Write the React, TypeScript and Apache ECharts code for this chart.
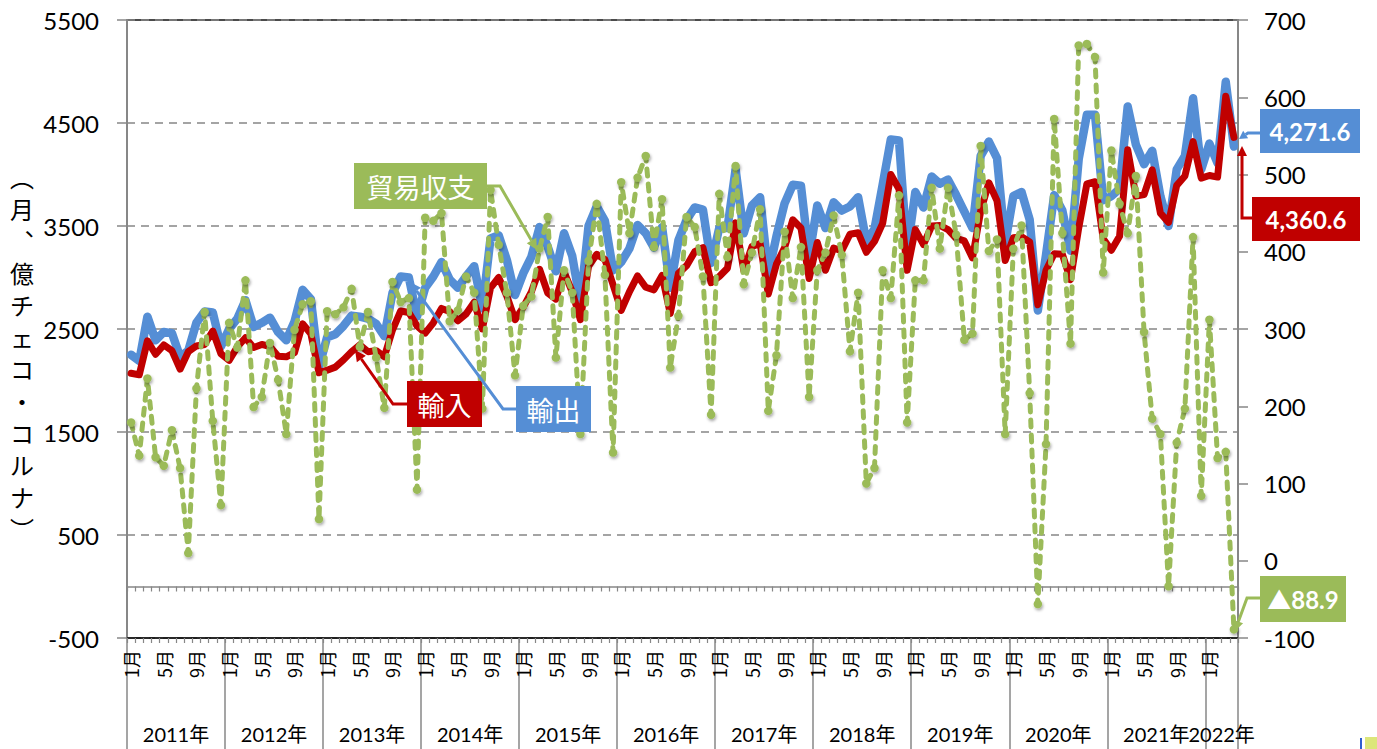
import React, { useEffect, useRef } from "react";
import * as echarts from "echarts";

// ---- data ----
const years = [2011, 2012, 2013, 2014, 2015, 2016, 2017, 2018, 2019, 2020, 2021, 2022];
const monthsInYear = [12, 12, 12, 12, 12, 12, 12, 12, 12, 12, 12, 4];

// 輸出 (億チェコ・コルナ, left axis)
const exportValues = [
  2250, 2190, 2620, 2390, 2470, 2460, 2230, 2290, 2560, 2670, 2660, 2330,
  2500, 2600, 2780, 2520, 2560, 2610, 2470, 2390, 2570, 2880, 2790, 2130,
  2420, 2450, 2530, 2630, 2620, 2600, 2550, 2430, 2850, 3010, 3000, 2620,
  2900, 3010, 3150, 2980, 2900, 3010, 3110, 2700, 3380, 3410, 3170, 2830,
  3040, 3200, 3490, 3300, 3060, 3430, 3210, 2750, 3500, 3690, 3550, 3070,
  3150, 3280, 3510, 3430, 3290, 3490, 2900, 3360, 3560, 3680, 3660, 3140,
  3480, 3480, 4050, 3430, 3700, 3780, 3030, 3400, 3720, 3900, 3890, 3200,
  3700, 3480, 3730, 3650, 3690, 3780, 3350, 3470, 3900, 4340, 4330, 3250,
  3830, 3680, 3980, 3910, 3950, 3800, 3640, 3480, 4180, 4320, 4160, 3330,
  3790, 3830, 3560, 2680, 3220, 3800, 3650, 3260, 4150, 4580, 4580, 3750,
  3790, 3860, 4660, 4290, 4100, 4230, 3790, 3500, 4050, 4180, 4740, 4050,
  4300, 4110, 4900, 4271.6,
];

// 輸入 (left axis)
const importValues = [
  2070, 2055, 2385, 2255, 2345, 2290, 2110, 2280, 2335, 2350, 2480, 2260,
  2195, 2325, 2415, 2320, 2350, 2330, 2235, 2230, 2270, 2550, 2455, 2075,
  2100, 2130, 2200, 2280, 2345, 2280, 2290, 2230, 2490, 2675, 2660, 2530,
  2460, 2560, 2700, 2670, 2580, 2645, 2760, 2500, 2900, 3000, 2820, 2590,
  2710, 2860, 3080, 2850, 2790, 3055, 2860, 2590, 3110, 3225, 3175, 2930,
  2680, 2860, 3015, 2905, 2880, 3020, 2650, 3040, 3115, 3250, 3290, 2950,
  3010, 3090, 3530, 3070, 3300, 3330, 2840, 3130, 3290, 3560, 3480, 2990,
  3340, 3070, 3285, 3260, 3420, 3435, 3245, 3350, 3525, 4000, 3860, 3070,
  3465, 3320, 3500, 3505, 3465, 3380, 3355, 3190, 3645, 3920, 3745, 3165,
  3385, 3395, 3345, 2735, 3070, 3230, 3225, 2980, 3480, 3910, 3930, 3375,
  3265, 3400, 4240, 3790, 3805, 4045, 3625, 3535, 3895, 3985, 4320, 3965,
  3990, 3975, 4760, 4360.6,
];

// 貿易収支 (right axis)
const balanceValues = [
  179, 136, 236, 134, 123, 169, 120, 10, 223, 322, 181, 72,
  308, 276, 363, 199, 212, 282, 234, 164, 299, 332, 336, 54,
  323, 319, 328, 352, 277, 322, 263, 198, 361, 335, 340, 92,
  444, 440, 450, 310, 324, 368, 347, 197, 480, 409, 347, 240,
  330, 342, 404, 445, 263, 376, 347, 164, 388, 462, 370, 140,
  490, 424, 496, 524, 406, 468, 250, 317, 445, 432, 368, 189,
  475, 393, 511, 358, 399, 455, 194, 266, 426, 340, 406, 212,
  376, 399, 447, 396, 271, 347, 100, 120, 376, 340, 473, 179,
  363, 363, 483, 404, 483, 422, 286, 294, 537, 401, 416, 164,
  404, 434, 217, -56, 151, 572, 424, 281, 667, 669, 652, 373,
  531, 462, 424, 498, 296, 184, 164, -33, 153, 197, 419, 84,
  312, 133, 141, -88.9,
];

const leftAxis = { min: -500, max: 5500, interval: 1000 };
const rightAxis = { min: -100, max: 700, interval: 100 };
const axisNameChars = ["︵", "月", "︑", "億", "チ", "ェ", "コ", "・", "コ", "ル", "ナ", "︶"];
const endLabels = { exp: "4,271.6", imp: "4,360.6", bal: "▲88.9" };

// ---- derived tables ----
const categories: string[] = [];
years.forEach((y, yi) => {
  for (let m = 1; m <= monthsInYear[yi]; m++) categories.push(`${y}/${m}`);
});
const yearBounds: number[] = [0];
const yearMids: number[] = [];
const midToYear: Record<string, string> = {};
years.forEach((y, yi) => {
  const start = yearBounds[yearBounds.length - 1];
  const end = start + monthsInYear[yi];
  yearBounds.push(end);
  const mid = (start + end) / 2;
  yearMids.push(mid);
  midToYear[String(mid)] = `${y}年`;
});
const totalMonths = yearBounds[yearBounds.length - 1];
// alternate the year labels over two axes so that the crowded last two never hide each other
const yearMidsA = yearMids.filter((_, i) => i % 2 === 0);
const yearMidsB = yearMids.filter((_, i) => i % 2 === 1);

const BLUE = "#558ED5";
const RED = "#C00000";
const GREEN = "#9BBB59";
const GRAY = "#878787";
const NUMFONT = "Lato, 'Noto Sans CJK JP', sans-serif";
const JPFONT = "'Noto Sans CJK JP', sans-serif";

function arrow(pts: number[][], color: string, lw: number, head = 11, hw = 5.5) {
  const n = pts.length;
  const [x1, y1] = pts[n - 2];
  const [x2, y2] = pts[n - 1];
  const dx = x2 - x1, dy = y2 - y1;
  const L = Math.hypot(dx, dy);
  const ux = dx / L, uy = dy / L;
  const bx = x2 - ux * head, by = y2 - uy * head;
  const line = pts.slice(0, n - 1).concat([[bx, by]]);
  return [
    { type: "polyline", z: 100, shape: { points: line }, style: { stroke: color, lineWidth: lw, fill: null, lineJoin: "miter" } },
    { type: "polygon", z: 100, shape: { points: [[x2, y2], [bx - uy * hw, by + ux * hw], [bx + uy * hw, by - ux * hw]] }, style: { fill: color } },
  ];
}

function box(x: number, y: number, w: number, h: number, fill: string, text: string, font: string, size: number, weight = "normal") {
  return [
    { type: "rect", z: 100, shape: { x, y, width: w, height: h }, style: { fill } },
    {
      type: "text", z: 101, x: x + w / 2, y: y + h / 2,
      style: { text, fill: "#fff", fontFamily: font, fontSize: size, fontWeight: weight, align: "center", verticalAlign: "middle" },
    },
  ];
}

const axisNameGraphics = axisNameChars.map((c, i) => ({
  type: "text", z: 100, x: 22, y: 176 + i * 32,
  style: { text: c, fill: "#000", fontFamily: JPFONT, fontSize: 24, align: "center", verticalAlign: "middle" },
}));

function yearLabelAxis(mids: number[], withTicks: boolean) {
  return {
    type: "value", min: 0, max: totalMonths, position: "bottom",
    axisLine: { show: false, onZero: false },
    axisTick: { show: withTicks, customValues: yearBounds, length: 111, lineStyle: { color: GRAY, width: 1.5 } },
    axisLabel: {
      show: true, customValues: mids, margin: 86, fontSize: 20, color: "#000", fontFamily: NUMFONT,
      hideOverlap: false,
      formatter: (v: number) => midToYear[String(v)] || "",
    },
    splitLine: { show: false },
  };
}

const option: any = {
  animation: false,
  backgroundColor: "#fff",
  textStyle: { fontFamily: NUMFONT },
  grid: { left: 127, top: 20, width: 1111, height: 618, show: true, borderColor: "#111", borderWidth: 1.5, backgroundColor: "transparent" },
  xAxis: [
    {
      type: "category", data: categories, position: "bottom", boundaryGap: true,
      axisLine: { onZero: false, lineStyle: { color: "#111", width: 1.5 } },
      axisTick: { show: true, interval: 0, length: 5, lineStyle: { color: GRAY, width: 1.2 } },
      axisLabel: {
        interval: 3, rotate: 90, margin: 12, fontSize: 18, color: "#000", fontFamily: JPFONT,
        formatter: (v: string) => `${v.split("/")[1]}月`,
      },
      splitLine: { show: false },
    },
    {
      type: "category", data: categories, position: "bottom", boundaryGap: true,
      axisLine: { onZero: true, onZeroAxisIndex: 0, lineStyle: { color: GRAY, width: 1.5 } },
      axisTick: { show: true, interval: 0, length: 5, lineStyle: { color: GRAY, width: 1.2 } },
      axisLabel: { show: false },
      splitLine: { show: false },
    },
    yearLabelAxis(yearMidsA, true),
    yearLabelAxis(yearMidsB, false),
  ],
  yAxis: [
    {
      type: "value", position: "left", min: leftAxis.min, max: leftAxis.max, interval: leftAxis.interval,
      axisLine: { show: true, onZero: false, lineStyle: { color: GRAY, width: 2 } },
      axisTick: { show: true, length: 10, lineStyle: { color: GRAY, width: 1.5 } },
      axisLabel: { fontSize: 24, color: "#000", margin: 28, fontFamily: NUMFONT, formatter: (v: number) => String(v) },
      splitLine: { show: true, lineStyle: { color: GRAY, width: 1.5, type: [8, 6] } },
    },
    {
      type: "value", position: "right", min: rightAxis.min, max: rightAxis.max, interval: rightAxis.interval,
      axisLine: { show: true, onZero: false, lineStyle: { color: GRAY, width: 2 } },
      axisTick: { show: true, length: 10, lineStyle: { color: GRAY, width: 1.5 } },
      axisLabel: { fontSize: 24, color: "#000", margin: 26, fontFamily: NUMFONT, formatter: (v: number) => String(v) },
      splitLine: { show: false },
    },
  ],
  series: [
    {
      name: "輸出", type: "line", xAxisIndex: 0, yAxisIndex: 0, data: exportValues,
      showSymbol: false, symbol: "none", z: 3,
      lineStyle: { color: BLUE, width: 8.5, join: "round", cap: "round" },
      itemStyle: { color: BLUE },
    },
    {
      name: "輸入", type: "line", xAxisIndex: 0, yAxisIndex: 0, data: importValues,
      showSymbol: false, symbol: "none", z: 4,
      lineStyle: { color: RED, width: 7, join: "round", cap: "round" },
      itemStyle: { color: RED },
    },
    {
      name: "貿易収支", type: "line", xAxisIndex: 0, yAxisIndex: 1, data: balanceValues,
      symbol: "circle", symbolSize: 8.5, showSymbol: true, showAllSymbol: true, z: 5,
      lineStyle: { color: GREEN, width: 5, type: [7, 8], cap: "round", join: "round" },
      itemStyle: { color: GREEN, shadowColor: "rgba(0,0,0,0.35)", shadowBlur: 3, shadowOffsetX: 1, shadowOffsetY: 2 },
    },
  ],
  graphic: [
    ...axisNameGraphics,
    ...box(354, 163, 133, 46, GREEN, "貿易収支", JPFONT, 27),
    ...arrow([[487, 186], [500, 186], [537, 250]], GREEN, 3),
    ...box(407, 381, 75, 46, RED, "輸入", JPFONT, 27),
    ...arrow([[407, 404], [393, 404], [355, 350]], RED, 3),
    ...box(516, 386, 75, 46, BLUE, "輸出", JPFONT, 27),
    ...arrow([[516, 409], [503, 409], [410, 282]], BLUE, 3),
    ...box(1260, 109, 100, 44, BLUE, endLabels.exp, NUMFONT, 24, "bold"),
    ...arrow([[1260, 133], [1248, 133], [1239, 139]], BLUE, 3, 8, 4.5),
    ...box(1252, 197, 108, 44, RED, endLabels.imp, NUMFONT, 24, "bold"),
    ...arrow([[1252, 218], [1242, 218], [1242, 146]], RED, 3, 10, 5),
    ...box(1260, 576, 86, 46, GREEN, endLabels.bal, NUMFONT, 24, "bold"),
    ...arrow([[1260, 598], [1247, 598], [1235, 631]], GREEN, 3, 10, 5),
    { type: "rect", z: 100, shape: { x: 1360, y: 738, width: 2, height: 11 }, style: { fill: "#2F5FD0" } },
    { type: "rect", z: 100, shape: { x: 1365, y: 737, width: 12, height: 12 }, style: { fill: "#DCE67A" } },
  ],
};

export default function App() {
  const ref = useRef<HTMLDivElement>(null);
  useEffect(() => {
    if (!ref.current) return;
    const chart = echarts.init(ref.current, null, { renderer: "svg" });
    chart.setOption(option);
    return () => chart.dispose();
  }, []);
  return (
    <div
      ref={ref}
      style={{ position: "fixed", left: 0, top: 0, width: 1377, height: 749, background: "#fff" }}
    />
  );
}
